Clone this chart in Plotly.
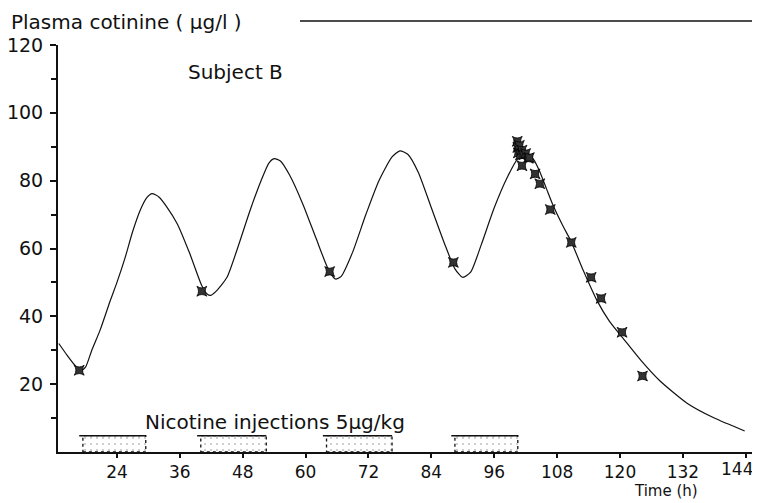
import plotly.graph_objects as go

# Fitted (model) curve: time (h), cotinine (ug/l)
curve_t = [12.9, 14.5, 16.0, 17.0, 18.0, 19.2, 20.8, 22.7, 24.0, 25.5, 27.0, 28.5, 29.7, 30.7,
           32.0, 33.5, 35.5, 37.9, 40.2, 41.2, 41.9, 43.0, 45.0, 47.0, 49.4, 51.5, 53.0, 54.0,
           55.2, 57.0, 59.5, 62.0, 64.3, 65.7, 66.8, 69.0, 71.5, 74.0, 76.5, 78.0, 79.5, 81.5,
           84.0, 86.5, 88.5, 90.0, 91.5, 93.5, 96.0, 98.5, 100.5, 102.2, 103.5, 104.6, 106.0,
           107.1, 109.0, 110.7, 113.0, 115.6, 118.0, 120.6, 124.0, 127.6, 132.8, 138.0, 143.8]
curve_c = [32.0, 28.5, 25.5, 23.8, 25.0, 30.0, 36.0, 44.5, 50.0, 57.0, 65.0, 71.5, 75.0, 76.2,
           75.2, 72.3, 67.3, 58.5, 49.0, 46.6, 46.2, 47.5, 51.5, 60.0, 71.2, 80.0, 85.2, 86.5,
           85.8, 81.5, 73.0, 63.0, 54.0, 51.0, 51.8, 59.0, 70.0, 80.0, 87.0, 88.8, 87.8, 82.5,
           72.0, 61.5, 54.0, 51.5, 53.0, 61.0, 72.0, 81.0, 86.5, 88.2, 86.3, 83.0, 77.5,
           73.2, 67.0, 62.0, 53.5, 44.7, 38.5, 33.5, 27.0, 21.0, 14.4, 10.0, 6.2]

# Measured samples
obs_t = [16.8, 40.2, 64.6, 88.2,
         100.4, 100.5, 100.6, 100.8, 101.0, 101.3, 101.6, 102.0, 102.5, 102.7,
         101.3, 103.8, 104.7, 106.7, 110.7, 114.5, 116.4, 120.4, 124.3]
obs_c = [24.1, 47.4, 53.2, 55.9,
         91.6, 89.8, 88.2, 90.4, 87.6, 89.0, 87.6, 88.0, 86.6, 86.8,
         84.4, 82.0, 79.1, 71.5, 61.8, 51.5, 45.3, 35.3, 22.4]

# Nicotine injection periods (start, end in h) and bar height
inj_start = [17.5, 40.0, 64.0, 88.5]
inj_end = [29.5, 52.5, 76.5, 100.5]
inj_height = 4.8

x_ticks = [24, 36, 48, 60, 72, 84, 96, 108, 120, 132, 144]
x_tick_labels = ["24", "36", "48", "60", "72", "84", "96", "108", "120", "132", "144"]
y_ticks = [20, 40, 60, 80, 100, 120]

FONT = "DejaVu Sans"

fig = go.Figure()

fig.add_trace(go.Bar(
    x=[(s + e) / 2 for s, e in zip(inj_start, inj_end)],
    y=[inj_height] * len(inj_start),
    width=[e - s for s, e in zip(inj_start, inj_end)],
    base=0,
    marker=dict(color="white", line=dict(width=0),
                pattern=dict(shape=".", fgcolor="#888", bgcolor="white", size=6, solidity=0.1)),
    hoverinfo="skip", showlegend=False,
))

for s, e in zip(inj_start, inj_end):
    fig.add_shape(type="rect", xref="x", yref="y", x0=s, x1=e, y0=0, y1=inj_height,
                  line=dict(color="#111", width=1.3, dash="dot"), fillcolor="rgba(0,0,0,0)")
    fig.add_shape(type="line", xref="x", yref="y", x0=s - 0.7, x1=e, y0=inj_height, y1=inj_height,
                  line=dict(color="#111", width=1.4))

fig.add_trace(go.Scatter(
    x=curve_t, y=curve_c, mode="lines",
    line=dict(color="#111", width=1.2, shape="spline", smoothing=0.6),
    hoverinfo="skip", showlegend=False,
))

fig.add_trace(go.Scatter(
    x=obs_t, y=obs_c, mode="markers",
    marker=dict(symbol="star-square", size=9, color="#333", line=dict(color="#000", width=0.8)),
    showlegend=False,
))

# the page places the figure 8 px in from the top-left corner
OFF = 8
PAGE_W, PAGE_H = 760, 503
PL, PR, PT, PB = 58, 757, 45, 452   # plot area in page pixels
W, H = PAGE_W - OFF, PAGE_H - OFF
L, T = PL - OFF, PT - OFF
R = W - (PR - OFF)
B = H - (PB - OFF)
pw = PR - PL
ph = PB - PT

def px(xp):
    return (xp - PL) / pw

def py(yp):
    return (PB - yp) / ph

fig.add_annotation(text="Plasma cotinine ( µg/l )", xref="paper", yref="paper",
                   x=px(9), y=py(22), xanchor="left", yanchor="middle", showarrow=False,
                   font=dict(family=FONT, size=20, color="#111"))
fig.add_shape(type="line", xref="paper", yref="paper", x0=px(300), x1=px(760), y0=py(21), y1=py(21),
              line=dict(color="#111", width=1.5))
fig.add_annotation(text="Subject B", xref="paper", yref="paper",
                   x=px(186), y=py(72), xanchor="left", yanchor="middle", showarrow=False,
                   font=dict(family=FONT, size=20, color="#111"))
fig.add_annotation(text="Nicotine injections 5µg/kg", xref="paper", yref="paper",
                   x=px(143), y=py(422), xanchor="left", yanchor="middle", showarrow=False,
                   font=dict(family=FONT, size=20, color="#111"))
fig.add_annotation(text="Time (h)", xref="paper", yref="paper",
                   x=px(632), y=py(502), xanchor="left", yanchor="bottom", showarrow=False,
                   font=dict(family=FONT, size=15, color="#111"))

# last tick label drawn right-aligned so it stays inside the page
fig.add_annotation(text=x_tick_labels[-1], xref="x", yref="paper", x=x_ticks[-1], y=py(469),
                   xanchor="right", yanchor="middle", xshift=9, showarrow=False,
                   font=dict(family=FONT, size=17, color="#111"))

fig.update_layout(
    width=W, height=H,
    margin=dict(l=L, r=R, t=T, b=B, pad=0, autoexpand=False),
    paper_bgcolor="white", plot_bgcolor="white",
    font=dict(family=FONT, size=18, color="#111"),
    bargap=0,
    xaxis=dict(range=[12.75, 146.15], tickvals=x_ticks,
               ticktext=x_tick_labels[:-1] + [""],
               showgrid=False, zeroline=False, showline=True, linecolor="#111", linewidth=2,
               ticks="outside", ticklen=4, tickwidth=1.5, tickcolor="#111",
               automargin=False, tickfont=dict(size=17)),
    yaxis=dict(range=[0, 120], tickvals=y_ticks, ticktext=[str(v) for v in y_ticks],
               showgrid=False, zeroline=False, showline=True, linecolor="#111", linewidth=2,
               ticks="outside", ticklen=6, tickwidth=1.5, tickcolor="#111",
               ticklabelstandoff=3, tickfont=dict(size=19), automargin=False,
               minor=dict(tickvals=[10, 30, 50, 70, 90, 110], ticks="outside", ticklen=5,
                          tickwidth=1.5, tickcolor="#111")),
)

fig.write_html("out.html")
